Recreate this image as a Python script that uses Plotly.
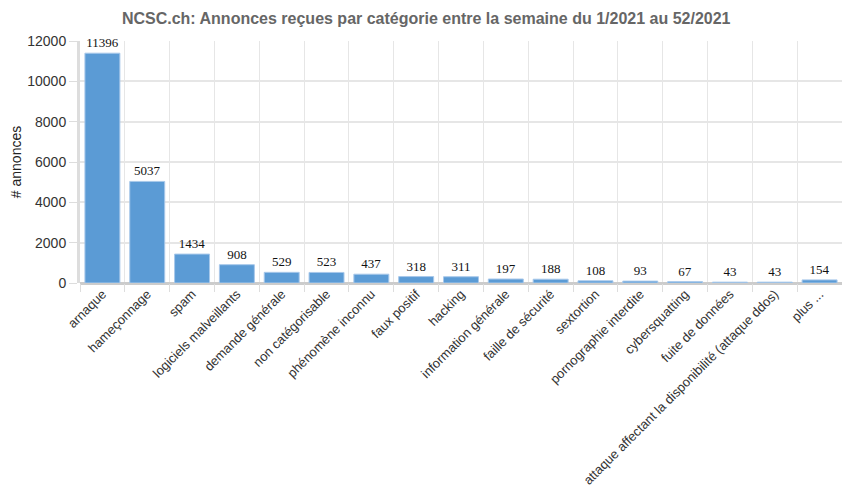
import plotly.graph_objects as go

CATEGORIES = ['arnaque', 'hameçonnage', 'spam', 'logiciels malveillants', 'demande générale',
              'non catégorisable', 'phénomène inconnu', 'faux positif', 'hacking',
              'information générale', 'faille de sécurité', 'sextortion', 'pornographie interdite',
              'cybersquatting', 'fuite de données',
              'attaque affectant la disponibilité (attaque ddos)', 'plus ...']
COUNTS = [11396, 5037, 1434, 908, 529, 523, 437, 318, 311, 197, 188, 108, 93, 67, 43, 43, 154]

Y_TICKS = [0, 2000, 4000, 6000, 8000, 10000, 12000]
Y_TICK_LABELS = ['0', '2000', '4000', '6000', '8000', '10000', '12000']

fig = go.Figure()
fig.add_trace(go.Bar(x=CATEGORIES, y=COUNTS, marker_color='#5b9bd5',
                     marker_line=dict(color='#a8c8ea', width=1),
                     text=COUNTS, textposition='outside', cliponaxis=False,
                     textfont=dict(family='Liberation Serif', size=13, color='#111')))

fig.update_layout(
    width=850, height=500,
    title=dict(text='<b>NCSC.ch: Annonces reçues par catégorie entre la semaine du 1/2021 au 52/2021</b>',
               x=0.492, xanchor='center', xref='container', y=0.98, yanchor='middle',
               font=dict(family='Arial', size=16, color='#666')),
    margin=dict(l=72, r=16, t=33, b=225),
    plot_bgcolor='white', paper_bgcolor='white',
    bargap=0.22, showlegend=False,
    font=dict(family='Arial', color='#333'),
)
fig.update_xaxes(tickangle=-45, tickson='boundaries', ticks='outside', ticklen=8,
                 tickcolor='#ddd', showgrid=True, gridcolor='#e6e6e6',
                 showline=False, tickfont=dict(size=13, color='#333'), automargin=False)
fig.update_yaxes(range=[0, 12000], tickvals=Y_TICKS, ticktext=Y_TICK_LABELS,
                 ticks='outside', ticklen=8,
                 tickcolor='#ddd', gridcolor='#e6e6e6', gridwidth=2,
                 showline=True, linecolor='#ddd', linewidth=3,
                 zeroline=True, zerolinecolor='#ccc', zerolinewidth=3,
                 title=dict(text='# annonces', font=dict(size=14, color='#222'), standoff=27),
                 tickfont=dict(size=14, color='#333'), automargin=False)

fig.write_html("out.html")
